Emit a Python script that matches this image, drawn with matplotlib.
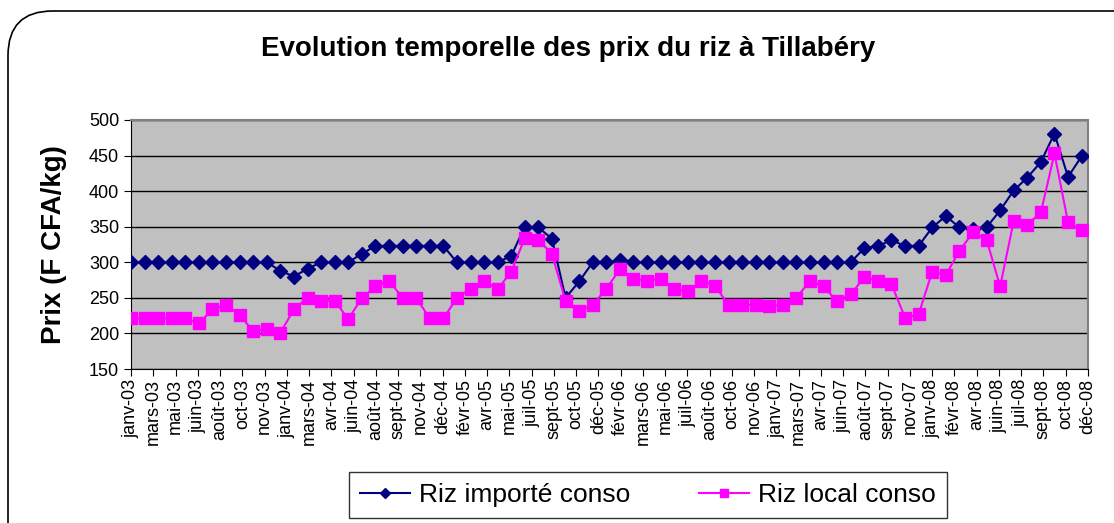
import numpy as np
import matplotlib
matplotlib.use("Agg")
import matplotlib.pyplot as plt
from matplotlib.patches import FancyBboxPatch

plt.rcParams['font.family'] = ['Liberation Sans', 'DejaVu Sans']

# monthly prices (F CFA/kg), 71 points
riz_importe = [300, 300, 300, 300, 300, 300, 300, 300, 300, 300, 300,
               288, 280, 291, 300, 300, 300, 312, 323, 323, 323, 323, 323, 323,
               300, 300, 300, 300, 309, 350, 349, 333, 250, 273, 300, 300, 303,
               300, 300, 300, 300, 300, 300, 300, 300, 300, 300, 300, 300, 300,
               300, 300, 300, 300, 320, 323, 331, 323, 323, 349, 365, 349, 347,
               349, 373, 401, 419, 441, 481, 420, 449]
riz_local = [221, 221, 221, 221, 221, 214, 234, 240, 226, 203, 206, 201,
             234, 250, 246, 246, 220, 250, 266, 274, 250, 250, 221, 221,
             250, 263, 274, 262, 287, 334, 332, 311, 246, 232, 240, 263, 290,
             277, 274, 277, 262, 259, 274, 267, 240, 240, 240, 238, 240, 250,
             274, 266, 245, 255, 279, 274, 269, 222, 227, 287, 282, 316, 342,
             332, 266, 358, 353, 370, 453, 356, 345]

tick_labels = ['janv-03', 'mars-03', 'mai-03', 'juin-03', 'août-03', 'oct-03', 'nov-03',
               'janv-04', 'mars-04', 'avr-04', 'juin-04', 'août-04', 'sept-04', 'nov-04',
               'déc-04', 'févr-05', 'avr-05', 'mai-05', 'juil-05', 'sept-05', 'oct-05',
               'déc-05', 'févr-06', 'mars-06', 'mai-06', 'juil-06', 'août-06', 'oct-06',
               'nov-06', 'janv-07', 'mars-07', 'avr-07', 'juin-07', 'août-07', 'sept-07',
               'nov-07', 'janv-08', 'févr-08', 'avr-08', 'juin-08', 'juil-08', 'sept-08',
               'oct-08', 'déc-08']

x = np.arange(len(riz_importe))
x_end = len(riz_importe) - 1 + 0.47

fig = plt.figure(figsize=(11.14, 5.23), dpi=100)
W, H = 1114.0, 523.0

# rounded chart border (runs past the right and bottom edges)
border = FancyBboxPatch((8 / W, -0.2), 1.2, 1 - 11 / H + 0.2, transform=fig.transFigure,
                        boxstyle="round,pad=0,rounding_size=0.04",
                        mutation_aspect=W / H, fill=False, edgecolor='black',
                        linewidth=1.2, clip_on=False)
fig.patches.append(border)

ax = fig.add_axes([131 / W, 1 - 369 / H, 957 / W, 249 / H])
ax.set_facecolor('#C0C0C0')

ax.plot(x, riz_importe, color='#000080', marker='D', markersize=7,
        linewidth=1.5, label='Riz importé conso', zorder=3)
ax.plot(x, riz_local, color='#FF00FF', marker='s', markersize=8,
        linewidth=1.5, label='Riz local conso', zorder=3)

ax.set_xlim(0, x_end)
ax.set_ylim(150, 500)
ax.set_yticks(np.arange(150, 501, 50))
ax.yaxis.grid(True, color='black', linewidth=1)
ax.set_axisbelow(True)
ax.set_xticks(np.linspace(0, x_end, len(tick_labels)))
ax.set_xticklabels(tick_labels, rotation=90)
ax.tick_params(axis='both', labelsize=13, direction='out', length=5, color='black')
ax.tick_params(axis='x', pad=2)

for s in ['top', 'right']:
    ax.spines[s].set_color('#808080')
    ax.spines[s].set_linewidth(1.5)
for s in ['left', 'bottom']:
    ax.spines[s].set_color('black')

ax.set_ylabel('Prix (F CFA/kg)', fontsize=20, fontweight='bold', labelpad=16)

fig.text(568 / W, 1 - 49 / H, 'Evolution temporelle des prix du riz à Tillabéry',
         fontsize=20, fontweight='bold', ha='center', va='center')

leg = fig.legend(loc='center', bbox_to_anchor=(648 / W, 1 - 495 / H), ncol=2,
                 fontsize=19, frameon=True, fancybox=False, edgecolor='black',
                 handlelength=1.9, handletextpad=0.35, columnspacing=2.6,
                 borderpad=0.4, markerscale=0.8)
leg.get_frame().set_linewidth(1)

fig.savefig('out.png', dpi=100)
